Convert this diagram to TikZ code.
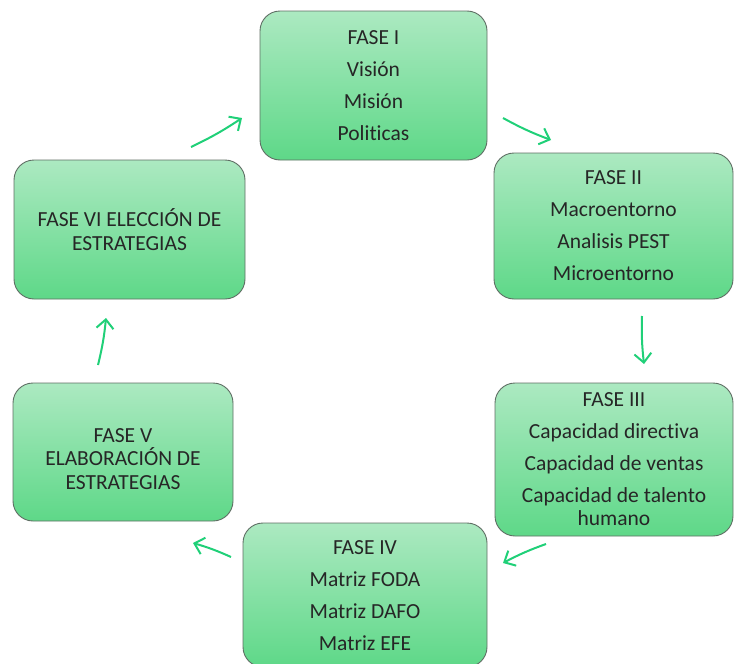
\documentclass[tikz,border=0pt]{standalone}
\usepackage{fontspec}
\setmainfont{Carlito}[Ligatures={NoCommon}]
\usetikzlibrary{arrows.meta}
\definecolor{boxtop}{RGB}{172,233,193}
\definecolor{boxbot}{RGB}{94,216,136}
\definecolor{boxline}{RGB}{95,110,100}
\definecolor{arrowgreen}{RGB}{32,208,120}
\definecolor{txtgray}{RGB}{38,38,38}
\tikzset{
  phasebox/.style={draw=boxline, line width=0.9pt, rounded corners=20pt,
    top color=boxtop, bottom color=boxbot, inner sep=0pt},
  phasetext/.style={align=center, text=txtgray, inner sep=0pt,
    font=\fontsize{21.5}{23.5}\selectfont},
  cyclearrow/.style={draw=arrowgreen, line width=2pt,
    -{Straight Barb[length=9pt,width=17pt,line width=2pt]}}
}
\begin{document}
\begin{tikzpicture}[x=1pt,y=-1pt]
\useasboundingbox (0,0) rectangle (734,664);
% boxes
\node[phasebox, minimum width=227pt, minimum height=149pt] (f1) at (373.5,85.5) {};
\node[phasebox, minimum width=239pt, minimum height=146pt] (f2) at (613.5,226) {};
\node[phasebox, minimum width=238pt, minimum height=153pt] (f3) at (614,459.5) {};
\node[phasebox, minimum width=244pt, minimum height=144pt] (f4) at (365,595) {};
\node[phasebox, minimum width=220pt, minimum height=138pt] (f5) at (123,452) {};
\node[phasebox, minimum width=231pt, minimum height=139pt] (f6) at (129.5,229.5) {};
% texts
\node[phasetext] (t1) at (373.5,85.5) {FASE I\\[8.5pt]Visión\\[8.5pt]Misión\\[8.5pt]Politicas};
\node[phasetext] (t2) at (613.5,226) {FASE II\\[8.5pt]Macroentorno\\[8.5pt]Analisis PEST\\[8.5pt]Microentorno};
\node[phasetext] (t3) at (614,459) {FASE III\\[8.5pt]Capacidad directiva\\[8.5pt]Capacidad de ventas\\[8.5pt]Capacidad de talento\\humano};
\node[phasetext] (t4) at (365,595.5) {FASE IV\\[8.5pt]Matriz FODA\\[8.5pt]Matriz DAFO\\[8.5pt]Matriz EFE};
\node[phasetext] (t5) at (123,459) {FASE V\\ELABORACIÓN DE\\ESTRATEGIAS};
\node[phasetext] (t6) at (129.5,229.5) {FASE VI ELECCIÓN DE\\ESTRATEGIAS};
% arrow end points
\coordinate (a1s) at (503,118); \coordinate (a1e) at (551,140);
\coordinate (a2s) at (642,316); \coordinate (a2e) at (644,364);
\coordinate (a3s) at (546,544); \coordinate (a3e) at (503,563);
\coordinate (a4s) at (231,557); \coordinate (a4e) at (193,543);
\coordinate (a5s) at (98,365);  \coordinate (a5e) at (106,318);
\coordinate (a6s) at (191,147); \coordinate (a6e) at (242,118);
\draw[cyclearrow] (a1s) to[bend right=4] (a1e);
\draw[cyclearrow] (a2s) to[bend right=4] (a2e);
\draw[cyclearrow] (a3s) to[bend right=4] (a3e);
\draw[cyclearrow] (a4s) to[bend right=4] (a4e);
\draw[cyclearrow] (a5s) to[bend right=4] (a5e);
\draw[cyclearrow] (a6s) to[bend right=4] (a6e);
\end{tikzpicture}
\end{document}
